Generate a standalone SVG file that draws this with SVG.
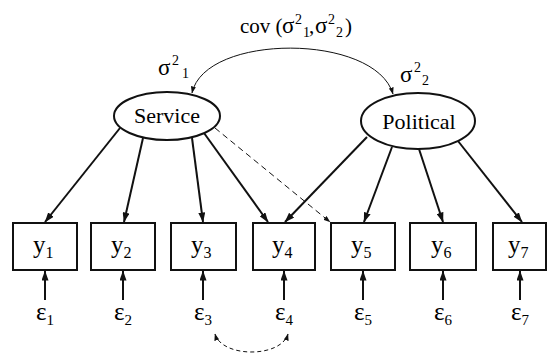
<svg xmlns="http://www.w3.org/2000/svg" width="548" height="354" viewBox="0 0 548 354">
<style>
.box{fill:#fff;stroke:#111;stroke-width:2}
.lat{fill:#fff;stroke:#111;stroke-width:2}
.load{stroke:#111;stroke-width:2;fill:none;marker-end:url(#ah)}
.err{stroke:#111;stroke-width:2;fill:none;marker-end:url(#ah)}
.dash{stroke:#111;stroke-width:1;fill:none;stroke-dasharray:6 4;marker-end:url(#ahs)}
.cov{stroke:#111;stroke-width:1;fill:none;marker-start:url(#ahs2);marker-end:url(#ahs)}
.ecov{stroke:#111;stroke-width:1;fill:none;stroke-dasharray:4 3;marker-start:url(#ahs2);marker-end:url(#ahs)}
</style>
<defs>
<marker id="ah" markerUnits="userSpaceOnUse" markerWidth="10" markerHeight="7" refX="9.5" refY="3.5" orient="auto"><path d="M0,0 L10,3.5 L0,7 z" fill="#111"/></marker>
<marker id="ahs" markerUnits="userSpaceOnUse" markerWidth="7" markerHeight="5" refX="6.5" refY="2.5" orient="auto"><path d="M0,0 L7,2.5 L0,5 z" fill="#111"/></marker>
<marker id="ahs2" markerUnits="userSpaceOnUse" markerWidth="7" markerHeight="5" refX="6.5" refY="2.5" orient="auto-start-reverse"><path d="M0,0 L7,2.5 L0,5 z" fill="#111"/></marker>
</defs>

<g id="connectors">
<path class="cov" d="M192,93 C205,33 375,33 393,94"/>
<line class="load" x1="120" y1="128" x2="45" y2="222"/>
<line class="load" x1="143" y1="138" x2="124" y2="222"/>
<line class="load" x1="192" y1="138" x2="203" y2="222"/>
<line class="load" x1="204" y1="133" x2="268" y2="222"/>
<line class="dash" x1="215" y1="128" x2="330" y2="222"/>
<line class="load" x1="367" y1="137" x2="285" y2="222"/>
<line class="load" x1="392" y1="147" x2="364" y2="222"/>
<line class="load" x1="419" y1="149" x2="443" y2="222"/>
<line class="load" x1="458" y1="141" x2="522" y2="222"/>
<line class="err" x1="45" y1="300" x2="45" y2="271"/>
<line class="err" x1="123" y1="300" x2="123" y2="271"/>
<line class="err" x1="203" y1="300" x2="203" y2="271"/>
<line class="err" x1="284" y1="300" x2="284" y2="271"/>
<line class="err" x1="363" y1="300" x2="363" y2="271"/>
<line class="err" x1="443" y1="300" x2="443" y2="271"/>
<line class="err" x1="520" y1="300" x2="520" y2="271"/>
<path class="ecov" d="M215,334 C222,358 281,358 288,334"/>
</g>

<g id="cov-label">
<text font-family="Liberation Serif" font-size="21" x="240" y="33">cov (</text>
<text font-family="Liberation Serif" font-size="23" x="282" y="33">σ</text><text font-family="Liberation Serif" font-size="14" x="295" y="24">2</text><text font-family="Liberation Serif" font-size="14" x="303" y="37">1</text>
<text font-family="Liberation Serif" font-size="21" x="309" y="33">,</text>
<text font-family="Liberation Serif" font-size="23" x="315" y="33">σ</text><text font-family="Liberation Serif" font-size="14" x="328" y="24">2</text><text font-family="Liberation Serif" font-size="14" x="336" y="37">2</text>
<text font-family="Liberation Serif" font-size="21" x="345" y="33">)</text>
</g>

<g id="service">
<ellipse class="lat" cx="167" cy="116" rx="53" ry="24"/>
<text font-family="Liberation Serif" font-size="22" text-anchor="middle" x="167" y="123">Service</text>
<text font-family="Liberation Serif" font-size="23" x="158" y="75">σ</text><text font-family="Liberation Serif" font-size="14" x="172" y="65">2</text><text font-family="Liberation Serif" font-size="14" x="182" y="78">1</text>
</g>

<g id="political">
<ellipse class="lat" cx="418" cy="121" rx="57" ry="28"/>
<text font-family="Liberation Serif" font-size="22" text-anchor="middle" x="419" y="129">Political</text>
<text font-family="Liberation Serif" font-size="23" x="400" y="82">σ</text><text font-family="Liberation Serif" font-size="14" x="414" y="72">2</text><text font-family="Liberation Serif" font-size="14" x="422" y="85">2</text>
</g>

<g id="y1"><rect class="box" x="13" y="223" width="64" height="47"/><text font-family="Liberation Serif" font-size="25" x="33" y="253">y<tspan font-size="16" dy="5">1</tspan></text></g>
<g id="y2"><rect class="box" x="91" y="223" width="64" height="47"/><text font-family="Liberation Serif" font-size="25" x="111" y="253">y<tspan font-size="16" dy="5">2</tspan></text></g>
<g id="y3"><rect class="box" x="171" y="223" width="65" height="47"/><text font-family="Liberation Serif" font-size="25" x="191" y="253">y<tspan font-size="16" dy="5">3</tspan></text></g>
<g id="y4"><rect class="box" x="253" y="223" width="62" height="47"/><text font-family="Liberation Serif" font-size="25" x="272" y="253">y<tspan font-size="16" dy="5">4</tspan></text></g>
<g id="y5"><rect class="box" x="331" y="223" width="64" height="47"/><text font-family="Liberation Serif" font-size="25" x="351" y="253">y<tspan font-size="16" dy="5">5</tspan></text></g>
<g id="y6"><rect class="box" x="410" y="223" width="66" height="47"/><text font-family="Liberation Serif" font-size="25" x="431" y="253">y<tspan font-size="16" dy="5">6</tspan></text></g>
<g id="y7"><rect class="box" x="493" y="223" width="53" height="47"/><text font-family="Liberation Serif" font-size="25" x="508" y="253">y<tspan font-size="16" dy="5">7</tspan></text></g>

<g id="e1"><text font-family="Liberation Serif" font-size="25" x="36" y="320">ε<tspan font-size="15" dy="5">1</tspan></text></g>
<g id="e2"><text font-family="Liberation Serif" font-size="25" x="114" y="320">ε<tspan font-size="15" dy="5">2</tspan></text></g>
<g id="e3"><text font-family="Liberation Serif" font-size="25" x="194" y="320">ε<tspan font-size="15" dy="5">3</tspan></text></g>
<g id="e4"><text font-family="Liberation Serif" font-size="25" x="275" y="320">ε<tspan font-size="15" dy="5">4</tspan></text></g>
<g id="e5"><text font-family="Liberation Serif" font-size="25" x="354" y="320">ε<tspan font-size="15" dy="5">5</tspan></text></g>
<g id="e6"><text font-family="Liberation Serif" font-size="25" x="434" y="320">ε<tspan font-size="15" dy="5">6</tspan></text></g>
<g id="e7"><text font-family="Liberation Serif" font-size="25" x="511" y="320">ε<tspan font-size="15" dy="5">7</tspan></text></g>
</svg>
